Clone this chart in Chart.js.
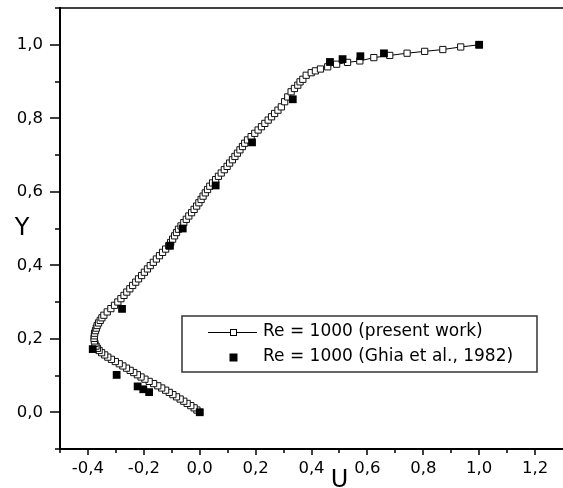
<!DOCTYPE html>
<html>
<head>
<meta charset="utf-8">
<script src="https://cdn.jsdelivr.net/npm/chart.js@4.4.1/dist/chart.umd.min.js"></script>
<style>
  html, body { margin: 0; padding: 0; background: #fff; }
  #wrap { width: 563px; height: 488px; }
</style>
</head>
<body>
<div id="wrap"><canvas id="profileChart"></canvas></div>
<script>
// present work: U along vertical centreline
const yPresent = [
  0, 0.006, 0.012, 0.018, 0.024, 0.030, 0.036, 0.042, 0.048, 0.054, 0.060, 0.066, 0.072, 0.078, 0.084,
  0.090, 0.096, 0.102, 0.108, 0.114, 0.120, 0.126, 0.132, 0.138, 0.144, 0.150, 0.156, 0.162, 0.168,
  0.174, 0.180, 0.187, 0.194, 0.201, 0.208, 0.215, 0.222, 0.229, 0.236, 0.243, 0.250, 0.257, 0.264,
  0.273, 0.282, 0.291, 0.300, 0.309, 0.318, 0.327, 0.336, 0.345, 0.354, 0.363, 0.372, 0.381, 0.390,
  0.399, 0.408, 0.417, 0.426, 0.435, 0.444, 0.453, 0.462, 0.471, 0.480, 0.489, 0.498, 0.507, 0.516,
  0.525, 0.534, 0.543, 0.552, 0.561, 0.570, 0.579, 0.588, 0.597, 0.606, 0.615, 0.624, 0.633, 0.642,
  0.651, 0.660, 0.669, 0.678, 0.687, 0.696, 0.705, 0.714, 0.723, 0.732, 0.741, 0.750, 0.759, 0.768,
  0.777, 0.786, 0.795, 0.804, 0.813, 0.822, 0.831,
  0.845, 0.858, 0.872, 0.881, 0.890, 0.899, 0.906, 0.917, 0.924, 0.929, 0.934, 0.940, 0.947, 0.952,
  0.956, 0.965, 0.971, 0.977, 0.982, 0.987, 0.994, 1.000,
];
const uPresent = [
  0, -0.010, -0.020, -0.032, -0.045, -0.057, -0.070, -0.083, -0.096, -0.109, -0.122, -0.136, -0.150, -0.165, -0.181,
  -0.196, -0.210, -0.223, -0.236, -0.249, -0.262, -0.275, -0.288, -0.302, -0.316, -0.329, -0.340, -0.351, -0.360,
  -0.366, -0.371, -0.375, -0.377, -0.378, -0.377, -0.376, -0.373, -0.370, -0.367, -0.362, -0.356, -0.350, -0.343,
  -0.331, -0.318, -0.305, -0.293, -0.282, -0.271, -0.261, -0.250, -0.240, -0.229, -0.219, -0.208, -0.198, -0.187,
  -0.177, -0.166, -0.155, -0.144, -0.133, -0.122, -0.111, -0.104, -0.097, -0.090, -0.083, -0.076, -0.067, -0.057,
  -0.048, -0.039, -0.029, -0.020, -0.011, -0.003, 0.005, 0.012, 0.020, 0.028, 0.036, 0.046, 0.057, 0.067,
  0.077, 0.088, 0.098, 0.107, 0.117, 0.126, 0.135, 0.144, 0.153, 0.161, 0.171, 0.184, 0.197, 0.209,
  0.221, 0.233, 0.245, 0.257, 0.268, 0.280, 0.292,
  0.304, 0.315, 0.327, 0.339, 0.351, 0.359, 0.369, 0.381, 0.399, 0.414, 0.432, 0.458, 0.490, 0.529,
  0.573, 0.623, 0.680, 0.742, 0.805, 0.870, 0.934, 1.000,
];

// Ghia et al. (1982), Re = 1000
const yGhia = [1.0, 0.9766, 0.9688, 0.9609, 0.9531, 0.8516, 0.7344, 0.6172, 0.5, 0.4531, 0.2813, 0.1719, 0.1016, 0.0703, 0.0625, 0.0547, 0.0];
const uGhia = [1.0, 0.65928, 0.57492, 0.51117, 0.46604, 0.33304, 0.18719, 0.05702, -0.0608, -0.10648, -0.27805, -0.38289, -0.2973, -0.2222, -0.20196, -0.18109, 0.0];

const seriesLabels = ["Re = 1000 (present work)", "Re = 1000 (Ghia et al., 1982)"];

const xMajorTicks = [-0.4, -0.2, 0, 0.2, 0.4, 0.6, 0.8, 1.0, 1.2];
const xMinorTicks = [-0.5, -0.3, -0.1, 0.1, 0.3, 0.5, 0.7, 0.9, 1.1];
const yMajorTicks = [0, 0.2, 0.4, 0.6, 0.8, 1.0];
const yMinorTicks = [-0.1, 0.1, 0.3, 0.5, 0.7, 0.9, 1.1];

const FONT = "'DejaVu Sans', sans-serif";

function fmt(v) {
  if (Math.abs(v) < 1e-9) v = 0;
  return v.toFixed(1).replace(".", ",");
}

// top border, tick marks and the upright axis letters
const frame = {
  id: "frame",
  afterDraw(chart) {
    const { ctx, chartArea, scales } = chart;
    const xs = scales.x;
    const ys = scales.y;
    ctx.save();
    ctx.strokeStyle = "#000";
    ctx.lineWidth = 1.5;
    ctx.beginPath();
    ctx.moveTo(chartArea.left, chartArea.top);
    ctx.lineTo(chartArea.right, chartArea.top);
    ctx.stroke();

    ctx.lineWidth = 1.5;
    ctx.beginPath();
    xMajorTicks.forEach((v) => {
      const p = Math.round(xs.getPixelForValue(v));
      ctx.moveTo(p, chartArea.bottom);
      ctx.lineTo(p, chartArea.bottom + 6);
    });
    xMinorTicks.forEach((v) => {
      const p = Math.round(xs.getPixelForValue(v));
      ctx.moveTo(p, chartArea.bottom);
      ctx.lineTo(p, chartArea.bottom + 4);
    });
    yMajorTicks.forEach((v) => {
      const p = Math.round(ys.getPixelForValue(v));
      ctx.moveTo(chartArea.left, p);
      ctx.lineTo(chartArea.left - 10, p);
    });
    yMinorTicks.forEach((v) => {
      const p = Math.round(ys.getPixelForValue(v));
      ctx.moveTo(chartArea.left, p);
      ctx.lineTo(chartArea.left - 5, p);
    });
    ctx.stroke();

    ctx.fillStyle = "#000";
    ctx.font = "24px " + FONT;
    ctx.textAlign = "center";
    ctx.textBaseline = "alphabetic";
    ctx.fillText("U", xs.getPixelForValue(0.5), chart.height - 1);
    ctx.fillText("Y", 22, (chartArea.top + chartArea.bottom) / 2 + 6);
    ctx.restore();
  },
};

// boxed legend inside the plot, like the original
const boxLegend = {
  id: "boxLegend",
  afterDraw(chart) {
    const { ctx, chartArea } = chart;
    const sets = chart.data.datasets;
    const left = chartArea.left + 122;
    const top = chartArea.top + 308;
    const w = 355;
    const h = 56;
    ctx.save();
    ctx.strokeStyle = "#333";
    ctx.lineWidth = 1.5;
    ctx.strokeRect(left, top, w, h);

    const rowY = [top + 16, top + 41];
    const mx = left + 51;

    // row 1: line with open square
    ctx.strokeStyle = "#000";
    ctx.lineWidth = 1;
    ctx.beginPath();
    ctx.moveTo(left + 26, rowY[0] + 0.5);
    ctx.lineTo(left + 75, rowY[0] + 0.5);
    ctx.stroke();
    ctx.fillStyle = "#fff";
    ctx.fillRect(mx - 3, rowY[0] - 3, 7, 7);
    ctx.strokeRect(mx - 3 + 0.5, rowY[0] - 3 + 0.5, 6, 6);

    // row 2: filled square
    ctx.fillStyle = "#000";
    ctx.fillRect(mx - 3.5, rowY[1] - 3.5, 8, 8);

    ctx.font = "17px " + FONT;
    ctx.textAlign = "left";
    ctx.textBaseline = "middle";
    ctx.fillText(sets[1].label, left + 81, rowY[0]);
    ctx.fillText(sets[0].label, left + 81, rowY[1]);
    ctx.restore();
  },
};

const ctx = document.getElementById("profileChart").getContext("2d");
new Chart(ctx, {
  type: "scatter",
  data: {
    datasets: [
      {
        label: seriesLabels[1],
        data: uGhia.map((u, i) => ({ x: u, y: yGhia[i] })),
        pointStyle: "rect",
        pointRadius: 5.5,
        pointBackgroundColor: "#000",
        pointBorderColor: "#000",
        pointBorderWidth: 0,
        showLine: false,
        order: 1,
      },
      {
        label: seriesLabels[0],
        data: uPresent.map((u, i) => ({ x: u, y: yPresent[i] })),
        showLine: true,
        borderColor: "#000",
        borderWidth: 1,
        tension: 0,
        pointStyle: "rect",
        pointRadius: 4.4,
        pointBackgroundColor: "#fff",
        pointBorderColor: "#111",
        pointBorderWidth: 1,
        order: 2,
      },
    ],
  },
  options: {
    responsive: true,
    maintainAspectRatio: false,
    animation: false,
    layout: { autoPadding: false, padding: { top: 8, right: 0, bottom: 0, left: 0 } },
    plugins: {
      legend: { display: false },
      tooltip: { enabled: false },
    },
    scales: {
      x: {
        type: "linear",
        min: -0.5,
        max: 1.3,
        afterBuildTicks: (scale) => {
          scale.ticks = xMajorTicks.map((v) => ({ value: v }));
        },
        afterFit: (scale) => {
          scale.height = 39;
          scale.paddingLeft = 0;
          scale.paddingRight = 0;
        },
        grid: { display: false, drawTicks: false },
        border: { display: true, color: "#000", width: 2 },
        ticks: {
          color: "#000",
          padding: 10,
          maxRotation: 0,
          autoSkip: false,
          font: { family: FONT, size: 16.5 },
          callback: (v) => fmt(v),
        },
      },
      y: {
        type: "linear",
        min: -0.1,
        max: 1.1,
        afterBuildTicks: (scale) => {
          scale.ticks = yMajorTicks.map((v) => ({ value: v }));
        },
        afterFit: (scale) => {
          scale.width = 60;
          scale.paddingTop = 0;
          scale.paddingBottom = 0;
        },
        grid: { display: false, drawTicks: false },
        border: { display: true, color: "#000", width: 2 },
        ticks: {
          color: "#000",
          padding: 17,
          autoSkip: false,
          font: { family: FONT, size: 16.5 },
          callback: (v) => fmt(v),
        },
      },
    },
  },
  plugins: [frame, boxLegend],
});
</script>
</body>
</html>
